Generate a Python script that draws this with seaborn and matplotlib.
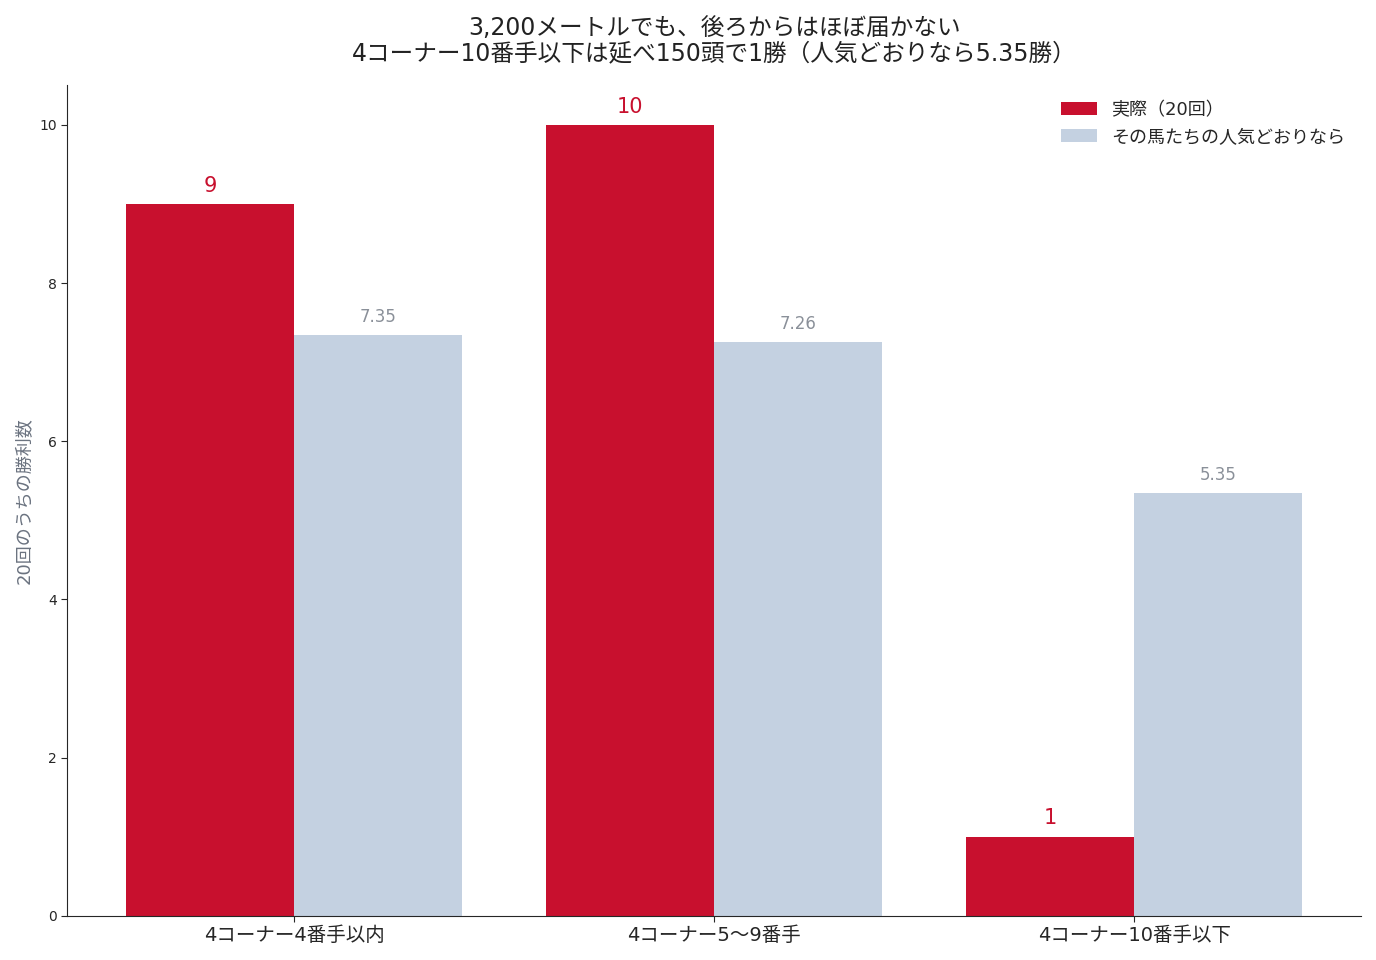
import matplotlib
matplotlib.use('Agg')
import matplotlib.pyplot as plt
import pandas as pd
import seaborn as sns

# data
categories = ['4コーナー4番手以内', '4コーナー5〜9番手', '4コーナー10番手以下']
series_names = ['実際（20回）', 'その馬たちの人気どおりなら']
actual_wins = [9, 10, 1]
expected_wins = [7.35, 7.26, 5.35]

df = pd.DataFrame({
    'group': categories * 2,
    'series': [series_names[0]] * 3 + [series_names[1]] * 3,
    'value': actual_wins + expected_wins,
})

sns.set_style('white')
plt.rcParams['font.family'] = ['DejaVu Sans', 'Noto Sans CJK JP']

red = '#C8102E'
blue = '#C4D1E1'
gray_text = '#8A9099'

fig, ax = plt.subplots(figsize=(13.76, 9.6), dpi=100)
sns.barplot(data=df, x='group', y='value', hue='series', order=categories,
            hue_order=series_names, palette=[red, blue], width=0.8,
            saturation=1, linewidth=0, ax=ax)

# value labels
for cont, col, fmt, size in zip(ax.containers, [red, gray_text],
                                ['{:.0f}', '{:.2f}'], [15, 12]):
    labels = [fmt.format(v) for v in cont.datavalues]
    ax.bar_label(cont, labels=labels, padding=6, color=col, fontsize=size)

ax.set_xlim(-0.54, 2.54)
ax.set_ylim(0, 10.5)
ax.set_yticks([0, 2, 4, 6, 8, 10])
ax.set_xlabel('')
ax.set_ylabel('20回のうちの勝利数', color='#6B7380', fontsize=13)
ax.tick_params(axis='x', labelsize=14, length=4, bottom=True)
ax.tick_params(axis='y', labelsize=10, length=4, left=True)
sns.despine(ax=ax)

ax.set_title('3,200メートルでも、後ろからはほぼ届かない\n'
             '4コーナー10番手以下は延べ150頭で1勝（人気どおりなら5.35勝）',
             fontsize=17, color='#222222', pad=18, linespacing=1.05)

leg = ax.legend(loc='upper right', frameon=False, fontsize=13,
                handlelength=2.0, handleheight=0.7, borderaxespad=0.45)

fig.subplots_adjust(left=0.049, right=0.989, top=0.911, bottom=0.046)
fig.savefig('out.png', dpi=100)
